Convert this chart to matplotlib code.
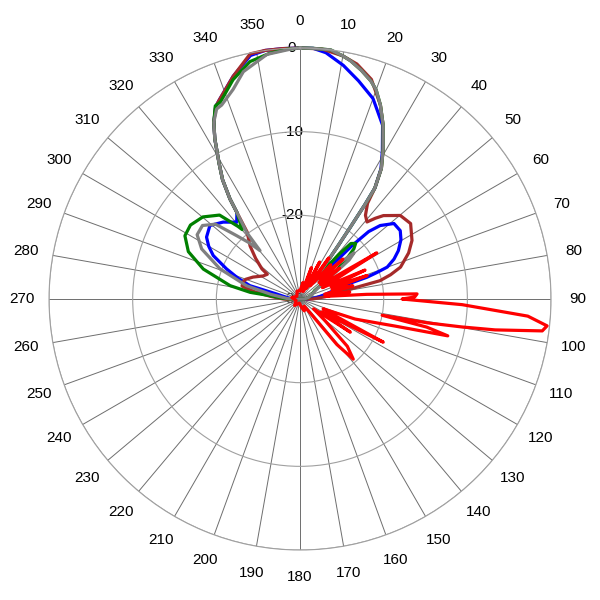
import numpy as np
import matplotlib
matplotlib.use("Agg")
import matplotlib.pyplot as plt
from matplotlib.transforms import offset_copy

plt.rcParams['font.family'] = ['Liberation Sans', 'DejaVu Sans']

# Pattern data (angle in degrees, level in dB)
blue_ang = [0, 3, 6, 10.5, 15, 20, 25.4, 29, 31.9, 34, 34.5, 35, 35.5, 37, 40, 43, 44.3, 45.5,
            47.5, 51.2, 55.7, 59.5, 63.8, 67, 69.9, 71, 72, 72.5, 75, 80, 85, 90, 95, 100,
            260, 265, 270, 276, 282.1, 284.9, 288.5, 292.3, 296.6, 300, 303.5, 309.2, 315,
            320.5, 323.9, 325, 327, 329.2, 332, 334, 336.3, 338, 343.3, 348.5, 352, 356, 360]
blue_db = [0, 0, -0.4, -1.6, -3.0, -4.5, -7.0, -9.7, -11.7, -14, -16.3, -19.5, -22, -26, -27,
           -25, -21, -18.5, -17.0, -15.6, -15.5, -16.0, -16.9, -17.8, -18.9, -20.3, -21.6,
           -23.7, -25.5, -27, -28, -29, -30, -30, -30, -29.5, -29, -28.5, -27.1, -23.8, -22.2,
           -20.5, -18.4, -17.4, -16.6, -16.1, -17, -18.1, -17.2, -15.4, -13, -11.1, -8.3, -6.5,
           -4.9, -4.3, -2.2, -0.3, 0, 0, 0]

brown_ang = [0, 5, 10, 13.6, 18, 22.5, 25.6, 29, 31.9, 34, 35.2, 38, 41, 43, 45, 50.2, 55.7,
             62.4, 67, 72.4, 75, 77.1, 78, 80, 85, 90, 95, 100, 260, 265, 270, 275, 279,
             282.6, 286.6, 290, 295, 302, 307.1, 308.3, 312.5, 316.7, 321.7, 323.9, 325, 327,
             329.2, 332, 334, 336.3, 338, 343.3, 348.5, 352, 356, 360]
brown_db = [0, 0, -0.5, -1.1, -2.4, -4.9, -7.0, -9.5, -11.6, -14, -16, -17.3, -17.8, -16.8,
            -15.9, -14.4, -14.0, -14.9, -15.9, -17.4, -18.8, -20.2, -22.6, -25, -27, -28.5, -30,
            -30, -30, -29, -28, -26.5, -24.5, -22.9, -22.9, -23.1, -23.8, -24.8, -25.1, -24.2,
            -22.8, -21.3, -19.8, -17.2, -15.4, -13, -11.1, -8.3, -6.5, -4.9, -4.3, -2.2, -0.1,
            0, 0, 0]

green_ang = [0, 3, 7, 10, 12, 15, 18, 20, 22.5, 25.6, 29, 31.9, 34, 34.5, 35, 35.5, 36.5, 38,
             39, 41, 42.5, 45, 47, 49, 52, 55, 60, 70, 80, 90, 95, 100, 260, 265, 272, 276.3,
             277.6, 280.8, 287.2, 293, 298.8, 304, 310.2, 316.2, 319.5, 320.2, 323.9, 325, 327,
             329.2, 332, 334, 336.3, 338, 343, 348.1, 353, 357, 360]
green_db = [0, 0, 0, -0.5, -0.9, -1.7, -2.6, -3.4, -4.9, -7.0, -9.5, -11.6, -14, -16.3, -19.5,
            -22, -25.3, -27, -26, -23, -21, -20.6, -21.2, -22.5, -24.5, -26.5, -28, -28.5, -29,
            -29.5, -30, -30, -30, -29.5, -28, -26.4, -24, -21.5, -17.9, -15.5, -14.3, -14.2,
            -14.8, -16.1, -18.6, -19.2, -17.2, -15.4, -13, -11.1, -8.3, -6.5, -4.8, -4.6, -2.6,
            -1.0, -0.4, -0.1, 0]

gray_ang = [0, 3, 7, 10, 12, 15, 18, 20, 22.5, 25.6, 29, 31.9, 34, 34.5, 35, 35.5, 36.5, 38,
            40, 44, 47, 49.5, 51.5, 53, 56, 62, 70, 80, 90, 95, 100, 260, 265, 272, 279, 284,
            290.6, 297, 302, 307, 311.5, 315, 318, 320.4, 321.3, 323.9, 325, 327, 329.2, 332,
            334, 336.3, 338, 342.3, 346, 352.3, 358, 360]
gray_db = [0, 0, 0, -0.5, -0.9, -1.7, -2.6, -3.4, -4.9, -7.0, -9.5, -11.6, -14, -16.3, -19.5,
           -22, -25.3, -27, -27.5, -26, -24, -21.5, -22.5, -24.5, -27, -28, -28.5, -29, -29.5,
           -30, -30, -30, -29.5, -28.5, -26.5, -23.4, -19.8, -16.8, -15.5, -15.4, -16.5, -19.3,
           -21, -22.5, -19.8, -17.2, -15.4, -13, -11.1, -8.3, -6.5, -5.2, -5.0, -3.7, -2.0,
           -0.5, -0.1, 0]

red_ang = [0, 10, 15, 20, 24, 28, 31, 35, 38, 42, 45, 47, 49, 52, 55, 57, 59, 61, 63, 66,
           68.5, 70.7, 73, 76, 79, 82, 84, 86, 87.5, 89, 90, 92, 94.3, 96.2, 97.5, 99, 99.8,
           100.6, 101.2, 102.5, 104, 105.9, 107, 110, 113, 115, 117.4, 119, 121, 123.4, 126,
           131, 135, 138.5, 141, 144, 150, 160, 170, 190, 220, 250, 280, 310, 340, 360]
red_db = [-29, -28, -29, -26, -29, -25, -28.5, -24, -28, -24.5, -26.6, -23, -27, -24, -27,
          -26, -19.3, -25, -27, -21.5, -26, -21.5, -26, -23.5, -27, -24, -27, -22, -16,
          -16.3, -17.8, -10.6, -2.7, -0.3, -0.8, -6.4, -10.4, -14.5, -20, -14.5, -11.8, -18.2,
          -20, -23, -27, -26, -18.8, -25, -27, -22.8, -28, -26, -22, -20.4, -23, -28, -29,
          -28.5, -29, -29.5, -29, -29.5, -29, -29.5, -29, -29]

series = [
    (blue_ang, blue_db, '#0000ff'),
    (brown_ang, brown_db, '#a52a2a'),
    (green_ang, green_db, '#008000'),
    (gray_ang, gray_db, '#808080'),
    (red_ang, red_db, '#ff0000'),
]

fig = plt.figure(figsize=(6, 6), dpi=100)
ax = fig.add_axes([0.0817, 0.0833, 0.8367, 0.8367], projection='polar')
ax.set_theta_zero_location('N')
ax.set_theta_direction(-1)
ax.set_ylim(-30, 0)

for ang, db, col in series:
    ax.plot(np.radians(ang), np.clip(db, -30, 0), color=col, lw=2.3,
            solid_joinstyle='round', clip_on=False)

# grid
ax.set_thetagrids(np.arange(0, 360, 10), [str(a) for a in range(0, 360, 10)], fontsize=11)
ax.xaxis.set_tick_params(pad=9)
ax.set_yticks([-30, -20, -10, 0])
ax.set_yticklabels([])
ax.xaxis.grid(True, color='#6e6e6e', lw=0.7)
ax.yaxis.grid(True, color='#a0a0a0', lw=0.8)
ax.spines['polar'].set_color('#a0a0a0')
ax.spines['polar'].set_linewidth(0.8)

# radial labels just left of the 0 degree line
trans = offset_copy(ax.transData, fig=fig, x=-8, y=0, units='dots')
for v in [0, -10, -20, -30]:
    ax.text(0, v, str(v), transform=trans, ha='center', va='center', fontsize=11, zorder=1.5)

fig.savefig('out.png', dpi=100)
